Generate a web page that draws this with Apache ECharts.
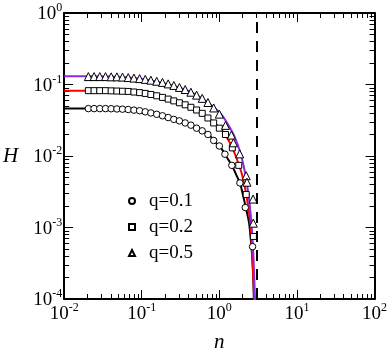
<!DOCTYPE html>
<html>
<head>
<meta charset="utf-8">
<script src="https://cdn.jsdelivr.net/npm/echarts@6/dist/echarts.min.js"></script>
<style>
    html, body { margin: 0; padding: 0; background: #fff; }
    #chart { width: 390px; height: 358px; }
</style>
</head>
<body>
<div id="chart"></div>
<script>
    // theory curves (n, H)
    const nLine01 = [0.01, 0.0205, 0.047, 0.0837, 0.111, 0.148, 0.197, 0.263, 0.35, 0.47, 0.62, 0.76, 0.90, 1.06, 1.2, 1.47, 1.7, 1.86, 2.15, 2.42, 2.62, 2.73, 2.80]
    const hLine01 = [0.046, 0.046, 0.0455, 0.0432, 0.0413, 0.0388, 0.036, 0.0329, 0.0295, 0.0257, 0.0221, 0.019, 0.0153, 0.0128, 0.0103, 0.0072, 0.0051, 0.0041, 0.0021, 0.00115, 0.00046, 0.000214, 0.00008]

    const nLine02 = [0.01, 0.0205, 0.047, 0.0837, 0.148, 0.263, 0.35, 0.47, 0.62, 0.83, 1.06, 1.28, 1.47, 1.7, 1.96, 2.23, 2.51, 2.62, 2.77, 2.85]
    const hLine02 = [0.082, 0.082, 0.0808, 0.077, 0.0694, 0.0604, 0.055, 0.047, 0.038, 0.030, 0.0235, 0.0175, 0.013, 0.0088, 0.0055, 0.00286, 0.00115, 0.00054, 0.000158, 0.00007]

    const nLine05 = [0.01, 0.0205, 0.047, 0.0837, 0.148, 0.263, 0.35, 0.47, 0.62, 0.83, 1.06, 1.28, 1.56, 1.86, 2.15, 2.42, 2.62, 2.77, 2.9]
    const hLine05 = [0.130, 0.130, 0.128, 0.122, 0.111, 0.0955, 0.0859, 0.0748, 0.0623, 0.0489, 0.0383, 0.0282, 0.019, 0.0113, 0.00578, 0.00246, 0.00098, 0.00034, 0.00008]

    // simulation points
    const nMark01 = [0.0205, 0.0243, 0.0288, 0.0341, 0.0403, 0.0478, 0.0565, 0.0669, 0.0793, 0.0939, 0.111, 0.131, 0.156, 0.185, 0.219, 0.259, 0.306, 0.363, 0.430, 0.509, 0.602, 0.713, 0.845, 1.0, 1.18, 1.45, 1.84, 2.16, 2.68]
    const hMark01 = [0.046, 0.046, 0.046, 0.046, 0.0458, 0.0455, 0.0452, 0.0447, 0.0438, 0.043, 0.0415, 0.040, 0.0383, 0.0365, 0.0345, 0.0325, 0.031, 0.029, 0.027, 0.0245, 0.0225, 0.020, 0.0165, 0.0138, 0.0106, 0.0074, 0.0042, 0.0019, 0.00054]

    const nMark02 = [0.0205, 0.0243, 0.0288, 0.0341, 0.0403, 0.0478, 0.0565, 0.0669, 0.0793, 0.0939, 0.111, 0.131, 0.156, 0.185, 0.219, 0.259, 0.306, 0.363, 0.430, 0.509, 0.602, 0.713, 0.845, 1.0, 1.2, 1.47, 1.78, 2.22, 2.75]
    const hMark02 = [0.082, 0.082, 0.082, 0.082, 0.0815, 0.081, 0.0805, 0.080, 0.0785, 0.077, 0.075, 0.0725, 0.0695, 0.066, 0.0625, 0.059, 0.0555, 0.052, 0.048, 0.044, 0.0395, 0.034, 0.029, 0.0245, 0.020, 0.013, 0.0074, 0.0029, 0.00075]

    const nMark05 = [0.0205, 0.0243, 0.0288, 0.0341, 0.0403, 0.0478, 0.0565, 0.0669, 0.0793, 0.0939, 0.111, 0.131, 0.156, 0.185, 0.219, 0.259, 0.306, 0.363, 0.430, 0.509, 0.602, 0.713, 0.845, 1.0, 1.2, 1.43, 1.52, 1.83, 2.22, 2.27, 2.72, 2.74]
    const hMark05 = [0.129, 0.129, 0.129, 0.129, 0.128, 0.128, 0.127, 0.125, 0.123, 0.121, 0.118, 0.115, 0.111, 0.107, 0.102, 0.097, 0.091, 0.085, 0.078, 0.071, 0.064, 0.056, 0.047, 0.0385, 0.0268, 0.0196, 0.0153, 0.0107, 0.0053, 0.0043, 0.0025, 0.00115]

    const qNames = ['q=0.1', 'q=0.2', 'q=0.5']
    const nCritical = 3

    const font = 'Liberation Serif'

    function pairs(xs, ys) {
        return xs.map((x, i) => [x, ys[i]])
    }

    // label like 10^-2
    function powLabel(v) {
        return '{b|10}{s|' + Math.round(Math.log10(v)) + '}'
    }
    const labelRich = {
        b: {fontSize: 19, fontFamily: font, color: '#000', verticalAlign: 'bottom', lineHeight: 22},
        s: {fontSize: 12, fontFamily: font, color: '#000', verticalAlign: 'top', lineHeight: 22}
    }

    const tickCfg = {inside: true, length: 9, lineStyle: {color: '#000', width: 1}}
    const minorCfg = {show: true, splitNumber: 9, length: 5, lineStyle: {color: '#000', width: 1}}
    const lineCfg = {show: true, lineStyle: {color: '#000', width: 2}}

    const chart = echarts.init(document.getElementById('chart'))

    function lineSeries(xs, ys, color) {
        return {
            type: 'line',
            data: pairs(xs, ys),
            showSymbol: false,
            smooth: 0.2,
            clip: true,
            lineStyle: {color: color, width: 2},
            z: 2
        }
    }

    function markSeries(name, xs, ys, symbol, size) {
        return {
            name: name,
            type: 'scatter',
            data: pairs(xs, ys),
            symbol: symbol,
            symbolSize: size,
            itemStyle: {color: '#fff', borderColor: '#000', borderWidth: 1, opacity: 1},
            z: 3
        }
    }

    const series = [
        lineSeries(nLine01, hLine01, '#000'),
        lineSeries(nLine02, hLine02, '#ff0000'),
        lineSeries(nLine05, hLine05, '#8a2be2'),
        markSeries(qNames[0], nMark01, hMark01, 'circle', 6.5),
        markSeries(qNames[1], nMark02, hMark02, 'rect', 6),
        markSeries(qNames[2], nMark05, hMark05, 'triangle', 8)
    ]
    series[0].markLine = {
        silent: true,
        symbol: 'none',
        label: {show: false},
        lineStyle: {color: '#000', width: 2, type: [11, 8]},
        data: [{xAxis: nCritical}]
    }

    const option = {
        animation: false,
        backgroundColor: '#fff',
        grid: {left: 56, right: 13, top: 13, bottom: 43},
        legend: {
            data: qNames,
            orient: 'vertical',
            left: 123,
            top: 186,
            itemWidth: 6,
            itemHeight: 6,
            itemGap: 6,
            textStyle: {fontFamily: font, fontSize: 19, color: '#000', lineHeight: 20, padding: [0, 0, 0, 9]}
        },
        xAxis: [
            {
                type: 'log', logBase: 10, min: 0.01, max: 100, position: 'bottom',
                name: 'n', nameLocation: 'middle', nameGap: 33,
                nameTextStyle: {fontFamily: font, fontStyle: 'italic', fontSize: 21, color: '#000'},
                axisLine: lineCfg, axisTick: tickCfg, minorTick: minorCfg,
                splitLine: {show: false},
                axisLabel: {formatter: powLabel, rich: labelRich, margin: 3}
            },
            {
                type: 'log', logBase: 10, min: 0.01, max: 100, position: 'top',
                axisLine: lineCfg, axisTick: tickCfg, minorTick: minorCfg,
                splitLine: {show: false}, axisLabel: {show: false}
            }
        ],
        yAxis: [
            {
                type: 'log', logBase: 10, min: 0.0001, max: 1, position: 'left',
                name: 'H', nameLocation: 'middle', nameGap: 46, nameRotate: 0,
                nameTextStyle: {fontFamily: font, fontStyle: 'italic', fontSize: 21, color: '#000'},
                axisLine: lineCfg, axisTick: tickCfg, minorTick: minorCfg,
                splitLine: {show: false},
                axisLabel: {formatter: powLabel, rich: labelRich, margin: 2}
            },
            {
                type: 'log', logBase: 10, min: 0.0001, max: 1, position: 'right',
                axisLine: lineCfg, axisTick: tickCfg, minorTick: minorCfg,
                splitLine: {show: false}, axisLabel: {show: false}
            }
        ],
        series: series
    }

    chart.setOption(option)
</script>
</body>
</html>
